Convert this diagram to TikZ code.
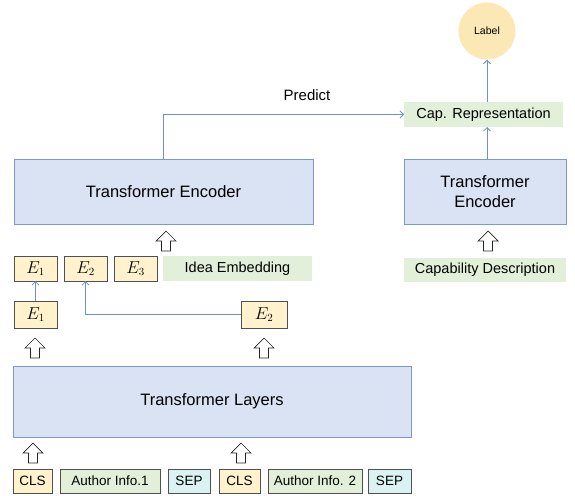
\documentclass[tikz,border=0pt]{standalone}
\usepackage{fontspec}
\setmainfont{Liberation Sans}
\usetikzlibrary{arrows.meta}
\definecolor{bluefill}{HTML}{DAE3F3}
\definecolor{blueline}{HTML}{7F97CA}
\definecolor{orfill}{HTML}{FFF2CC}
\definecolor{grfill}{HTML}{E2F0D9}
\definecolor{cyfill}{HTML}{DAF2F2}
\definecolor{lblfill}{HTML}{FCE8B4}
\definecolor{arr}{HTML}{6F8FD0}
\definecolor{edge}{HTML}{505050}
\begin{document}
\begin{tikzpicture}[x=1pt,y=-1pt,
 box/.style={rectangle, inner sep=0pt, outer sep=0pt},
 bluebox/.style={box, fill=bluefill, draw=blueline, line width=0.8pt, font=\fontsize{16.5}{20}\selectfont},
 ebox/.style={box, fill=orfill, draw=edge, line width=0.6pt, font=\fontsize{16}{18}\selectfont},
 greenbox/.style={box, fill=grfill, font=\fontsize{14.5}{17}\selectfont},
 tok/.style={box, draw=edge, line width=0.6pt, font=\fontsize{13.5}{16}\selectfont},
 flow/.style={draw=arr, line width=0.8pt, -{Straight Barb[length=3.5pt,width=7pt]}},
 hollowarrow/.pic={\draw[fill=white, draw=black!85, line width=0.7pt] (0,0) -- (10,10) -- (4.5,10) -- (4.5,20) -- (-4.5,20) -- (-4.5,10) -- (-10,10) -- cycle;}
]
\useasboundingbox (0,0) rectangle (575,495);

% top
\node[circle, fill=lblfill, minimum size=57pt, inner sep=0pt, font=\fontsize{10.5}{12}\selectfont] (label) at (487,31) {Label};
\node[greenbox, minimum width=159pt, minimum height=25pt] (cap) at (483.5,114.5) {Cap. Representation};
\node[font=\fontsize{15}{18}\selectfont] (predict) at (307,95) {Predict};

% encoders
\node[bluebox, minimum width=299pt, minimum height=65pt] (lte) at (163.5,191.5) {Transformer Encoder};
\node[bluebox, minimum width=162pt, minimum height=65pt, align=center] (rte) at (485,191.5) {Transformer\\Encoder};
\node[greenbox, minimum width=162pt, minimum height=24pt, font=\fontsize{14.5}{17}\selectfont] (capdesc) at (485,270) {Capability Description};

% embeddings
\node[ebox, minimum width=43pt, minimum height=25pt] (e1t) at (35.5,268.5) {$E_1$};
\node[ebox, minimum width=43pt, minimum height=25pt] (e2t) at (85.5,268.5) {$E_2$};
\node[ebox, minimum width=43pt, minimum height=25pt] (e3t) at (135.5,268.5) {$E_3$};
\node[greenbox, minimum width=149pt, minimum height=25pt] (idea) at (237.5,268.5) {Idea Embedding};
\node[ebox, minimum width=43pt, minimum height=27pt] (e1b) at (35.5,314.5) {$E_1$};
\node[ebox, minimum width=46pt, minimum height=27pt] (e2b) at (264,314.5) {$E_2$};

% transformer layers
\node[bluebox, minimum width=398pt, minimum height=71pt] (tl) at (212,401.5) {Transformer Layers};

% tokens
\node[tok, fill=orfill, minimum width=39pt, minimum height=24pt] (cls1) at (32.5,481) {CLS};
\node[tok, fill=grfill, minimum width=100pt, minimum height=24pt] (a1) at (110,481) {Author Info.1};
\node[tok, fill=cyfill, minimum width=42pt, minimum height=24pt] (sep1) at (189,481) {SEP};
\node[tok, fill=orfill, minimum width=41pt, minimum height=24pt] (cls2) at (239.5,481) {CLS};
\node[tok, fill=grfill, minimum width=94pt, minimum height=24pt] (a2) at (315,481) {Author Info. 2};
\node[tok, fill=cyfill, minimum width=43pt, minimum height=24pt] (sep2) at (389.5,481) {SEP};

% hollow arrows
\pic at (166,231) {hollowarrow};
\pic at (488,231) {hollowarrow};
\pic at (35,338) {hollowarrow};
\pic at (264,338) {hollowarrow};
\pic at (33,443) {hollowarrow};
\pic at (241,443) {hollowarrow};

% connectors
\draw[flow] (e1b) -- (e1t);
\draw[flow] (e2b.west) -| (e2t.south);
\draw[flow] (lte.north) |- (cap.west);
\draw[flow] (label.south |- rte.north) -- (label.south |- cap.south);
\draw[flow] (label.south |- cap.north) -- (label.south);
\end{tikzpicture}
\end{document}
